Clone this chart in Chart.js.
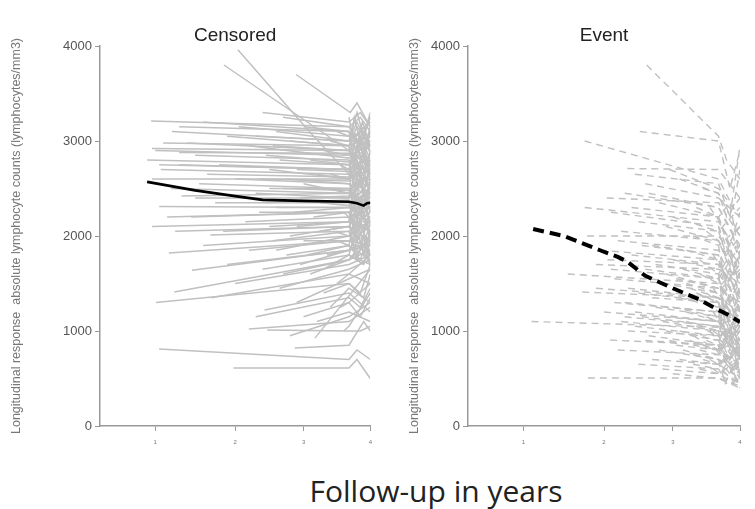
<!DOCTYPE html>
<html>
<head>
<meta charset="utf-8">
<title>Lymphocyte counts by follow-up</title>
<script src="https://cdn.jsdelivr.net/npm/chart.js@4.4.1/dist/chart.umd.min.js"></script>
<style>
  body { margin: 0; width: 755px; height: 509px; background: #fff; position: relative; overflow: hidden; }
  canvas { position: absolute; top: 0; }
  #left-panel { left: 0; }
  #right-panel { left: 380px; }
  #x-title {
    position: absolute; left: 236px; top: 471px; width: 400px; text-align: center;
    font-family: "Open Sans", sans-serif; font-size: 30px; color: #222; line-height: 40px;
  }
</style>
</head>
<body>
<canvas id="left-panel" width="380" height="450"></canvas>
<canvas id="right-panel" width="375" height="450"></canvas>
<div id="x-title">Follow-up in years</div>
<script>
// axis ticks (x axis is not evenly spaced in the original figure)
const xTickYears = [1, 2, 3, 4];
const xTickLabels = ["1", "2", "3", "4"];
const xTickPos = [0.204, 0.5, 0.753, 1];
const yTicks = [0, 1000, 2000, 3000, 4000];

// mean profiles, [year, count]
const censoredMean = [[0.9, 2570], [1.5, 2480], [2.0, 2420], [2.4, 2380], [3.0, 2370], [3.68, 2360], [3.8, 2345], [3.9, 2320], [3.95, 2345], [4, 2350]];
const eventMean = [[1.12, 2074], [1.5, 2000], [1.95, 1850], [2.2, 1780], [2.34, 1730], [2.6, 1580], [3.0, 1450], [3.4, 1330], [3.68, 1220], [3.8, 1180], [4, 1095]];

// individual subjects, censored group
const censoredSubjects = [
  [[0.95, 3210], [3.68, 3150], [3.85, 3250], [4, 3100]],
  [[1.21, 3100], [3.68, 3000], [4, 3200]],
  [[0.96, 2920], [3.68, 2900], [3.85, 3050], [4, 2800]],
  [[1.0, 2900], [3.68, 2850], [4, 2950]],
  [[0.9, 2800], [3.68, 2750], [3.9, 2600], [4, 2900]],
  [[1.07, 2700], [3.68, 2650], [4, 2500]],
  [[1.3, 2750], [3.68, 2700], [4, 2850]],
  [[0.96, 2600], [3.68, 2600], [4, 2700]],
  [[1.05, 2310], [3.68, 2300], [4, 2200]],
  [[1.33, 2420], [3.68, 2450], [4, 2350]],
  [[0.96, 2100], [3.68, 2150], [4, 2050]],
  [[1.69, 2010], [3.68, 2050], [4, 2250]],
  [[1.17, 1820], [3.68, 1950], [4, 1800]],
  [[1.46, 1640], [3.68, 1850], [4, 1900]],
  [[1.24, 1410], [3.68, 1750], [4, 1950]],
  [[1.01, 1300], [3.68, 1500], [3.85, 1400], [4, 1700]],
  [[2.43, 1220], [3.68, 1400], [4, 1200]],
  [[2.47, 1010], [3.68, 1000], [3.85, 1000], [4, 1050]],
  [[1.05, 810], [3.68, 700], [3.8, 800], [4, 700]],
  [[1.98, 610], [3.68, 610], [3.8, 700], [4, 500]],
  [[3.17, 925], [4, 1650]],
  [[2.87, 820], [3.68, 850], [3.9, 1100], [4, 1000]],
  [[2.04, 3960], [3.1, 3090], [3.68, 2650], [4, 2500]],
  [[1.86, 3800], [3.68, 2900], [4, 3000]],
  [[2.89, 3700], [3.7, 3300], [3.8, 3400], [4, 3150]],
  [[1.6, 3200], [3.68, 3100], [4, 3000]],
  [[2.4, 3300], [3.68, 3200], [3.85, 3300], [4, 3150]],
  [[1.9, 3050], [3.68, 2950], [4, 3050]],
  [[1.4, 2980], [3.68, 2900], [4, 2750]],
  [[1.5, 2850], [3.68, 2800], [4, 2650]],
  [[2.2, 2950], [3.68, 2820], [4, 3000]],
  [[1.8, 2750], [3.68, 2700], [4, 2550]],
  [[2.5, 2700], [3.68, 2600], [4, 2800]],
  [[1.55, 2550], [3.68, 2500], [4, 2600]],
  [[2.0, 2600], [3.68, 2550], [4, 2400]],
  [[2.7, 2500], [3.68, 2480], [4, 2650]],
  [[1.2, 2500], [3.68, 2450], [4, 2300]],
  [[2.3, 2450], [3.68, 2400], [4, 2500]],
  [[3.0, 2550], [3.68, 2450], [4, 2300]],
  [[1.75, 2350], [3.68, 2350], [4, 2450]],
  [[2.6, 2300], [3.68, 2300], [4, 2150]],
  [[1.45, 2200], [3.68, 2250], [4, 2400]],
  [[2.15, 2150], [3.68, 2200], [4, 2050]],
  [[2.9, 2100], [3.68, 2150], [4, 2300]],
  [[1.85, 2050], [3.68, 2100], [4, 1950]],
  [[2.55, 1950], [3.68, 2050], [4, 2150]],
  [[1.6, 1900], [3.68, 2000], [4, 1850]],
  [[2.2, 1850], [3.68, 1950], [4, 2100]],
  [[2.75, 1800], [3.68, 1900], [4, 1750]],
  [[1.9, 1700], [3.68, 1850], [4, 2000]],
  [[2.4, 1650], [3.68, 1800], [4, 1700]],
  [[3.1, 1600], [3.68, 1750], [4, 1850]],
  [[2.0, 1500], [3.68, 1700], [4, 1800]],
  [[2.65, 1450], [3.68, 1650], [4, 1750]],
  [[1.7, 1350], [3.68, 1600], [4, 1500]],
  [[2.9, 1300], [3.68, 1550], [4, 1650]],
  [[2.3, 1150], [3.68, 1350], [3.85, 1250], [4, 1450]],
  [[3.2, 1100], [3.68, 1200], [4, 1100]],
  [[2.8, 950], [3.68, 1150], [4, 1300]],
  [[3.3, 2900], [3.68, 2850], [4, 3050]],
  [[3.4, 2650], [3.68, 2600], [4, 2450]],
  [[3.25, 2350], [3.68, 2320], [4, 2500]],
  [[3.45, 2050], [3.68, 2000], [4, 2150]],
  [[3.35, 1800], [3.68, 1850], [4, 1950]],
  [[2.05, 3150], [3.68, 3050], [4, 2900]],
  [[1.1, 2980], [3.68, 2950], [4, 3050]],
  [[1.3, 2880], [3.68, 2870], [4, 2750]],
  [[2.6, 3100], [3.68, 3000], [4, 3200]],
  [[1.65, 2650], [3.68, 2620], [4, 2750]],
  [[2.35, 2250], [3.68, 2250], [4, 2100]],
  [[3.0, 1950], [3.68, 1950], [4, 1900]],
  [[3.5, 3100], [3.68, 3050], [4, 2950]],
  [[1.15, 2200], [3.68, 2250], [4, 2350]],
  [[2.45, 2850], [3.68, 2780], [4, 2700]],
  [[3.5, 1500], [3.68, 1600], [4, 1800]],
  [[3.55, 1250], [3.68, 1300], [4, 1500]],
  [[3.6, 1000], [3.68, 1050], [4, 1400]],
  [[2.2, 1020], [3.68, 1100], [4, 1250]],
  [[2.3, 3050], [3.68, 3000], [3.8, 3200], [4, 2900]],
  [[2.55, 2950], [3.68, 2900], [3.8, 2700], [4, 3100]],
  [[2.8, 3000], [3.68, 2950], [3.9, 3150], [4, 2850]],
  [[2.65, 2800], [3.68, 2750], [3.85, 2950], [4, 2600]],
  [[2.9, 2700], [3.68, 2680], [3.8, 2500], [4, 2750]],
  [[3.1, 2800], [3.68, 2750], [3.9, 2900], [4, 2650]],
  [[2.35, 2600], [3.68, 2580], [3.8, 2800], [4, 2450]],
  [[2.75, 2600], [3.68, 2550], [3.85, 2350], [4, 2700]],
  [[3.2, 2650], [3.68, 2600], [3.8, 2750], [4, 2500]],
  [[2.5, 2500], [3.68, 2500], [3.9, 2300], [4, 2600]],
  [[2.95, 2400], [3.68, 2420], [3.8, 2600], [4, 2300]],
  [[3.3, 2500], [3.68, 2480], [3.85, 2300], [4, 2550]],
  [[2.45, 2350], [3.68, 2380], [3.8, 2200], [4, 2450]],
  [[2.85, 2250], [3.68, 2300], [3.9, 2500], [4, 2250]],
  [[3.15, 2200], [3.68, 2250], [3.8, 2100], [4, 2350]],
  [[2.5, 2100], [3.68, 2150], [3.85, 2350], [4, 2000]],
  [[2.8, 2000], [3.68, 2100], [3.8, 1950], [4, 2200]],
  [[3.25, 2050], [3.68, 2100], [3.9, 1900], [4, 2150]],
  [[2.6, 1850], [3.68, 2000], [3.8, 2150], [4, 1900]],
  [[3.05, 1800], [3.68, 1900], [3.85, 1750], [4, 2050]],
  [[2.95, 1700], [3.68, 1850], [3.8, 2000], [4, 1800]],
  [[3.3, 1650], [3.68, 1800], [3.9, 1700], [4, 1950]],
  [[2.7, 1600], [3.68, 1750], [3.85, 1900], [4, 1700]],
  [[3.4, 3000], [3.68, 2950], [3.8, 3150], [4, 2950]],
  [[3.0, 3150], [3.68, 3100], [3.85, 2950], [4, 3250]],
  [[2.7, 3250], [3.68, 3150], [3.8, 3000], [4, 3200]],
  [[1.3, 3150], [3.68, 3100], [3.9, 2900], [4, 3150]],
  [[1.05, 2750], [3.68, 2700], [3.8, 2900], [4, 2650]],
  [[1.5, 2400], [3.68, 2400], [3.85, 2550], [4, 2350]],
  [[1.25, 2050], [3.68, 2100], [3.8, 2300], [4, 2050]],
  [[3.55, 2750], [3.68, 2700], [3.8, 2550], [4, 2800]],
  [[3.6, 2250], [3.68, 2200], [3.85, 2400], [4, 2150]],
  [[3.5, 1950], [3.68, 1900], [3.8, 1800], [4, 2000]],
  [[3.3, 1400], [3.68, 1500], [3.9, 1350], [4, 1600]],
  [[3.0, 1150], [3.68, 1300], [3.85, 1150], [4, 1350]],
  [[3.4, 1250], [3.68, 1450], [4, 1300]],
  [[3.68, 3250], [3.78, 2900], [3.88, 3200], [4, 2950]],
  [[3.68, 3100], [3.76, 2750], [3.86, 3050], [4, 2700]],
  [[3.68, 2950], [3.8, 2600], [3.9, 2900], [4, 2550]],
  [[3.68, 2800], [3.78, 2450], [3.88, 2750], [4, 2400]],
  [[3.68, 2650], [3.76, 2300], [3.86, 2600], [4, 2250]],
  [[3.68, 2500], [3.8, 2150], [3.9, 2450], [4, 2100]],
  [[3.68, 2350], [3.78, 2000], [3.88, 2300], [4, 1950]],
  [[3.68, 2200], [3.76, 1850], [3.86, 2150], [4, 1800]],
  [[3.68, 2050], [3.8, 1750], [3.9, 2000], [4, 1700]],
  [[3.68, 1900], [3.78, 2250], [3.88, 1950], [4, 2300]],
  [[3.68, 2150], [3.76, 2500], [3.86, 2200], [4, 2550]],
  [[3.68, 2400], [3.8, 2750], [3.9, 2450], [4, 2800]],
  [[3.68, 2700], [3.78, 3050], [3.88, 2750], [4, 3100]],
  [[3.68, 2900], [3.76, 3250], [3.86, 2950], [4, 3300]],
  [[3.68, 1800], [3.8, 2100], [3.9, 1800], [4, 2050]],
  [[3.68, 3000], [3.8, 3300], [3.9, 3050], [4, 3250]],
  [[3.68, 2600], [3.78, 2850], [3.88, 2550], [4, 2900]],
  [[3.68, 2250], [3.76, 2050], [3.86, 2400], [4, 2150]]
];

// individual subjects, event group
const eventSubjects = [
  [[2.62, 3800], [3.68, 3050], [3.8, 2800], [4, 2600]],
  [[2.52, 3100], [3.68, 3000], [3.85, 2500], [4, 2900]],
  [[1.76, 3000], [3.68, 2600], [3.9, 2300], [4, 2700]],
  [[2.34, 2710], [3.68, 2700], [4, 2400]],
  [[2.45, 2650], [3.68, 2550], [3.85, 2200], [4, 2950]],
  [[2.04, 2400], [3.68, 2350], [4, 2000]],
  [[1.76, 2300], [3.68, 2150], [4, 1800]],
  [[1.79, 2000], [3.68, 2000], [4, 1700]],
  [[1.55, 1600], [3.68, 1500], [4, 1100]],
  [[1.73, 1410], [3.68, 1350], [4, 900]],
  [[1.1, 1100], [3.68, 1040], [4, 700]],
  [[2.09, 905], [3.68, 850], [4, 600]],
  [[1.8, 505], [3.68, 505], [4, 420]],
  [[2.3, 2450], [3.68, 2300], [4, 1900]],
  [[2.6, 2550], [3.68, 2400], [4, 2200]],
  [[2.8, 2350], [3.68, 2200], [4, 1600]],
  [[2.1, 2250], [3.68, 2100], [4, 1500]],
  [[2.5, 2150], [3.68, 2050], [4, 2300]],
  [[2.9, 2100], [3.68, 1950], [4, 1400]],
  [[2.2, 1950], [3.68, 1850], [4, 1300]],
  [[2.7, 1900], [3.68, 1800], [4, 1900]],
  [[1.95, 1850], [3.68, 1750], [4, 1200]],
  [[2.4, 1800], [3.68, 1700], [4, 1000]],
  [[3.0, 1750], [3.68, 1650], [4, 1500]],
  [[1.9, 1700], [3.68, 1650], [4, 1600]],
  [[2.6, 1650], [3.68, 1550], [4, 800]],
  [[2.15, 1550], [3.68, 1450], [4, 1300]],
  [[2.85, 1500], [3.68, 1400], [4, 1700]],
  [[1.9, 1450], [3.68, 1350], [4, 1200]],
  [[2.5, 1400], [3.68, 1300], [4, 900]],
  [[3.1, 1350], [3.68, 1250], [4, 1000]],
  [[2.3, 1300], [3.68, 1200], [4, 1400]],
  [[2.75, 1250], [3.68, 1150], [4, 700]],
  [[2.0, 1200], [3.68, 1100], [4, 1100]],
  [[2.55, 1150], [3.68, 1050], [4, 800]],
  [[3.2, 1100], [3.68, 1000], [4, 1300]],
  [[2.35, 1000], [3.68, 950], [4, 600]],
  [[2.9, 1000], [3.68, 900], [4, 1000]],
  [[2.6, 900], [3.68, 850], [4, 500]],
  [[3.3, 950], [3.68, 800], [4, 900]],
  [[2.2, 800], [3.68, 750], [4, 1100]],
  [[2.8, 800], [3.68, 700], [4, 600]],
  [[3.1, 700], [3.68, 650], [4, 800]],
  [[2.5, 650], [3.68, 600], [4, 450]],
  [[3.4, 600], [3.68, 550], [4, 700]],
  [[3.0, 550], [3.68, 500], [4, 400]],
  [[3.3, 2000], [3.68, 1900], [4, 2100]],
  [[3.4, 1600], [3.68, 1500], [4, 1250]],
  [[3.5, 1300], [3.68, 1200], [4, 850]],
  [[3.5, 1150], [3.68, 1100], [4, 1600]],
  [[3.45, 850], [3.68, 800], [4, 1200]],
  [[3.55, 700], [3.68, 650], [4, 500]],
  [[2.05, 1750], [3.68, 1700], [4, 1400]],
  [[2.95, 1150], [3.68, 1100], [4, 850]],
  [[3.2, 1500], [3.68, 1400], [4, 1050]],
  [[3.05, 850], [3.68, 800], [4, 650]],
  [[2.45, 1050], [3.68, 950], [4, 1000]],
  [[3.3, 750], [3.68, 700], [4, 550]],
  [[3.6, 1800], [3.7, 1700], [4, 1350]],
  [[3.6, 1000], [3.7, 950], [4, 750]],
  [[3.55, 2300], [3.7, 2150], [4, 1550]],
  [[2.7, 1350], [3.68, 1300], [4, 1150]],
  [[3.15, 1650], [3.68, 1550], [4, 1900]],
  [[2.25, 1100], [3.68, 1000], [4, 950]],
  [[3.35, 1400], [3.68, 1300], [4, 700]],
  [[3.45, 2500], [3.68, 2450], [4, 2000]],
  [[2.95, 2700], [3.68, 2500], [4, 2200]],
  [[3.6, 600], [3.7, 550], [4, 850]],
  [[3.5, 900], [3.68, 850], [4, 400]],
  [[3.0, 1250], [3.68, 1150], [3.85, 900], [4, 1050]],
  [[3.2, 1200], [3.68, 1100], [3.9, 800], [4, 950]],
  [[2.85, 1100], [3.68, 1000], [3.8, 1150], [4, 750]],
  [[3.35, 1050], [3.68, 950], [3.85, 700], [4, 900]],
  [[3.1, 1000], [3.68, 900], [3.9, 1100], [4, 650]],
  [[2.65, 950], [3.68, 850], [3.8, 700], [4, 800]],
  [[3.25, 900], [3.68, 800], [3.85, 950], [4, 600]],
  [[2.95, 900], [3.68, 800], [3.9, 600], [4, 750]],
  [[3.4, 800], [3.68, 750], [3.8, 900], [4, 500]],
  [[3.15, 800], [3.68, 700], [3.85, 550], [4, 650]],
  [[2.7, 700], [3.68, 650], [3.9, 800], [4, 550]],
  [[3.3, 650], [3.68, 600], [3.8, 450], [4, 500]],
  [[3.5, 1400], [3.68, 1300], [3.85, 1050], [4, 1200]],
  [[3.25, 1450], [3.68, 1350], [3.9, 1150], [4, 1300]],
  [[2.9, 1600], [3.68, 1450], [3.8, 1250], [4, 1100]],
  [[3.05, 1550], [3.68, 1450], [3.85, 1600], [4, 1250]],
  [[3.4, 1750], [3.68, 1600], [3.9, 1400], [4, 1500]],
  [[3.2, 1850], [3.68, 1750], [3.8, 1500], [4, 1650]],
  [[2.75, 1700], [3.68, 1600], [3.85, 1800], [4, 1450]],
  [[3.5, 2050], [3.68, 1950], [3.9, 1650], [4, 1800]],
  [[3.0, 2200], [3.68, 2050], [3.8, 1800], [4, 2000]],
  [[3.35, 2300], [3.68, 2200], [3.85, 1900], [4, 2250]],
  [[2.65, 2450], [3.68, 2300], [3.9, 2000], [4, 2100]],
  [[3.1, 2600], [3.68, 2450], [3.8, 2200], [4, 2400]],
  [[2.4, 2300], [3.68, 2200], [3.85, 2350], [4, 1750]],
  [[2.25, 2050], [3.68, 1950], [3.9, 1600], [4, 1850]],
  [[2.55, 1900], [3.68, 1800], [3.8, 1550], [4, 1650]],
  [[2.1, 1650], [3.68, 1550], [3.85, 1300], [4, 1450]],
  [[2.35, 1450], [3.68, 1350], [3.9, 1100], [4, 1250]],
  [[2.15, 1300], [3.68, 1200], [3.8, 950], [4, 1150]],
  [[2.45, 1200], [3.68, 1100], [3.85, 850], [4, 1000]],
  [[2.3, 1150], [3.68, 1050], [3.9, 750], [4, 900]],
  [[3.55, 1000], [3.68, 900], [3.85, 650], [4, 800]],
  [[3.6, 1200], [3.7, 1100], [3.9, 950], [4, 1050]],
  [[3.6, 1450], [3.7, 1350], [3.85, 1200], [4, 1350]],
  [[3.65, 800], [3.75, 700], [3.9, 550], [4, 600]],
  [[3.45, 700], [3.68, 650], [3.85, 500], [4, 450]],
  [[2.85, 600], [3.68, 550], [3.9, 450], [4, 550]],
  [[3.68, 1900], [3.78, 1500], [3.88, 1750], [4, 1300]],
  [[3.68, 1600], [3.76, 1200], [3.86, 1450], [4, 1000]],
  [[3.68, 1300], [3.8, 900], [3.9, 1150], [4, 700]],
  [[3.68, 1000], [3.78, 650], [3.88, 900], [4, 500]],
  [[3.68, 800], [3.76, 1100], [3.86, 850], [4, 1150]],
  [[3.68, 1150], [3.8, 1450], [3.9, 1200], [4, 1500]],
  [[3.68, 700], [3.78, 450], [3.88, 600], [4, 420]],
  [[3.68, 2100], [3.78, 1800], [3.9, 2000], [4, 1650]]
];

// map follow-up years onto the figure's uneven x axis
function toAxis(year) {
  const i = year < 2 ? 0 : (year < 3 ? 1 : 2);
  const a = xTickYears[i], b = xTickYears[i + 1];
  return xTickPos[i] + (year - a) * (xTickPos[i + 1] - xTickPos[i]) / (b - a);
}

function toPoints(line) {
  return line.map(p => ({ x: toAxis(p[0]), y: p[1] }));
}

// panel title centred over the plot area, not the whole canvas
const panelTitle = {
  id: "panelTitle",
  afterDraw(chart, args, opts) {
    const ctx = chart.ctx;
    const area = chart.chartArea;
    ctx.save();
    ctx.font = "19px 'Liberation Sans'";
    ctx.fillStyle = "#222";
    ctx.textAlign = "center";
    ctx.textBaseline = "middle";
    ctx.fillText(opts.text, (area.left + area.right) / 2, 36);
    ctx.restore();
  }
};

function buildPanel(canvasId, title, subjects, mean, dashed, yAxisWidth, yTitlePad, rightPad) {
  const datasets = subjects.map(s => ({
    data: toPoints(s),
    borderColor: "#c0c0c0",
    borderWidth: dashed ? 1.4 : 1.5,
    borderDash: dashed ? [7, 5] : [],
    pointRadius: 0,
    tension: 0
  }));
  datasets.push({
    data: toPoints(mean),
    borderColor: "#000",
    borderWidth: dashed ? 4 : 2.6,
    borderDash: dashed ? [11, 6] : [],
    pointRadius: 0,
    tension: 0,
    order: -1
  });

  return new Chart(document.getElementById(canvasId), {
    type: "line",
    data: { datasets: datasets },
    plugins: [panelTitle],
    options: {
      responsive: false,
      devicePixelRatio: 1,
      animation: false,
      layout: { padding: { left: 0, right: rightPad, top: 46, bottom: 0 } },
      plugins: {
        legend: { display: false },
        tooltip: { enabled: false },
        title: { display: false },
        panelTitle: { text: title }
      },
      scales: {
        x: {
          type: "linear",
          min: 0,
          max: 1,
          afterBuildTicks: scale => { scale.ticks = xTickPos.map(v => ({ value: v })); },
          afterFit: scale => { scale.height = 24; },
          ticks: {
            autoSkip: false,
            maxRotation: 0,
            padding: 8,
            color: "#777",
            font: { family: "Liberation Sans", size: 6 },
            callback: (value, index) => xTickLabels[index]
          },
          grid: { drawOnChartArea: false, drawTicks: true, tickLength: 5, color: "#999" },
          border: { color: "#999", width: 1.5 }
        },
        y: {
          min: 0,
          max: 4000,
          afterBuildTicks: scale => { scale.ticks = yTicks.map(v => ({ value: v })); },
          afterFit: scale => { scale.width = yAxisWidth; },
          ticks: {
            padding: 3,
            color: "#555",
            font: { family: "Liberation Sans", size: 13 },
            callback: value => String(value)
          },
          grid: { drawOnChartArea: false, drawTicks: true, tickLength: 5, color: "#999" },
          border: { color: "#999", width: 1.5 },
          title: {
            display: true,
            text: "Longitudinal response  absolute lymphocyte counts (lymphocytes/mm3)",
            color: "#777",
            font: { family: "Liberation Sans", size: 12.5 },
            padding: { top: yTitlePad, bottom: 0 }
          }
        }
      }
    }
  });
}

buildPanel("left-panel", "Censored", censoredSubjects, censoredMean, false, 100, 9.5, 6);
buildPanel("right-panel", "Event", eventSubjects, eventMean, true, 88, 27.5, 15);
</script>
</body>
</html>
